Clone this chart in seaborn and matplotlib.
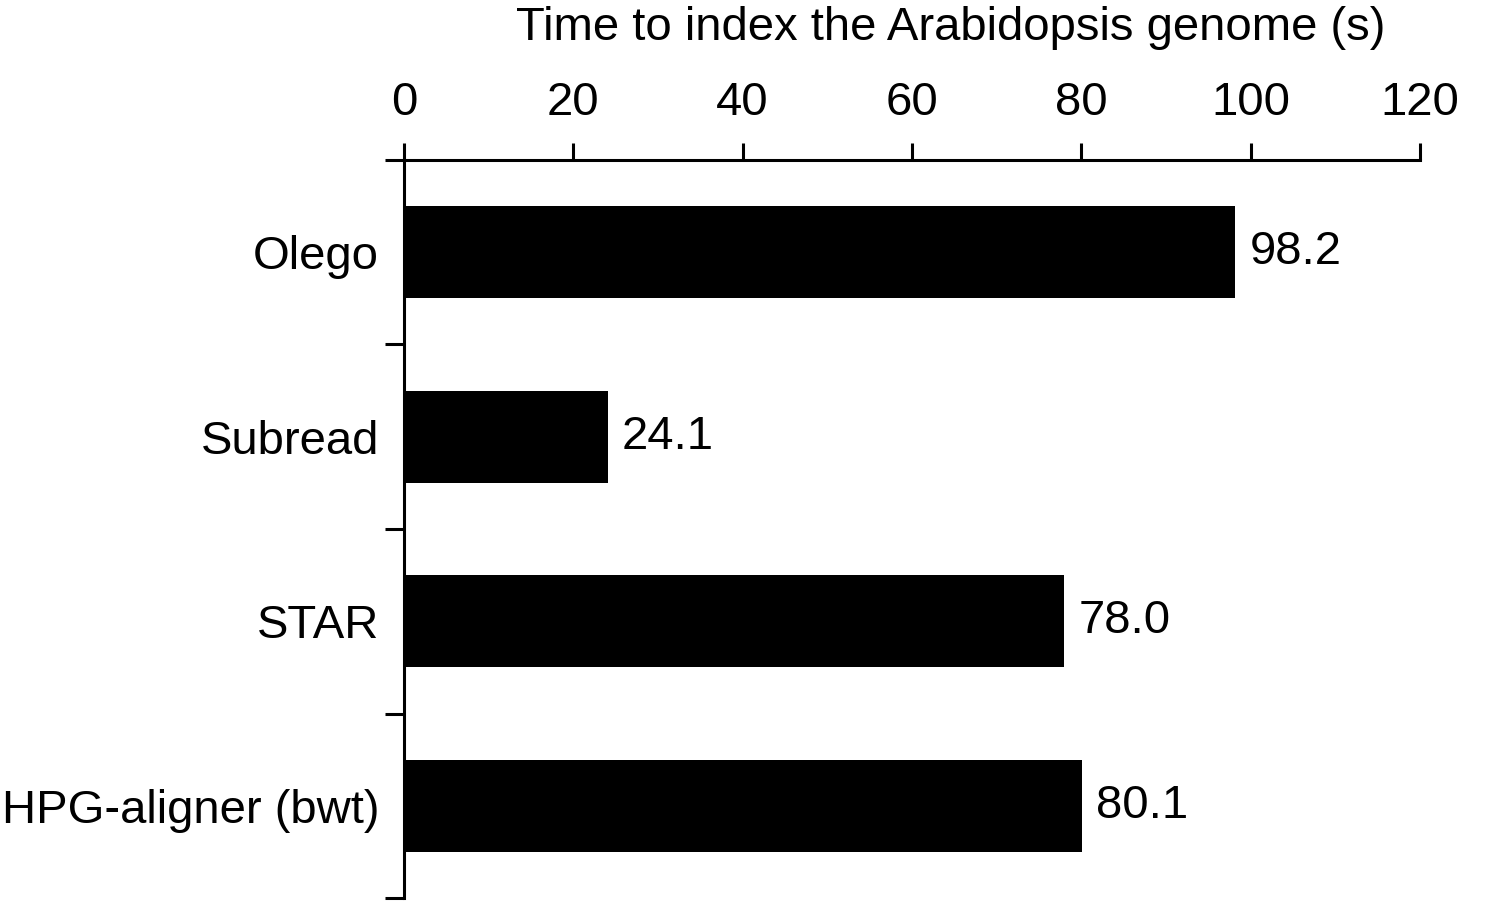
import numpy as np
import pandas as pd
import matplotlib
matplotlib.use("Agg")
import matplotlib.pyplot as plt
import seaborn as sns

# data
aligners = ["Olego", "Subread", "STAR", "HPG-aligner (bwt)"]
index_time = [98.2, 24.1, 78.0, 80.1]
x_ticks = [0, 20, 40, 60, 80, 100, 120]

sns.set_theme(style="ticks")
plt.rcParams["font.family"] = ["Liberation Sans", "DejaVu Sans"]
plt.rcParams.update({"text.color": "black", "axes.labelcolor": "black",
                     "xtick.color": "black", "ytick.color": "black"})

df = pd.DataFrame({"aligner": aligners, "time": index_time})

fig = plt.figure(figsize=(14.87, 9.21), dpi=100)
ax = fig.add_axes([404 / 1487, 1 - 898 / 921, (1420 - 404) / 1487, (898 - 160) / 921])

sns.barplot(data=df, x="time", y="aligner", color="black", width=0.5,
            saturation=1, ax=ax)
for bar in ax.patches:
    bar.set_edgecolor("none")

ax.bar_label(ax.containers[0], labels=[f"{v:.1f}" for v in index_time],
             padding=10, fontsize=34, color="black")

ax.set_xlim(0, 120)
ax.set_ylim(3.5, -0.5)
ax.set_xticks(x_ticks)
ax.xaxis.tick_top()
ax.tick_params(axis="x", which="major", length=12, width=2.2, labelsize=34,
               pad=13, top=True, bottom=False)

# category labels on major ticks (no mark), tick marks at category boundaries
ax.set_yticks(np.arange(len(aligners)))
ax.set_yticks(np.arange(len(aligners) + 1) - 0.5, minor=True)
ax.tick_params(axis="y", which="major", length=0, labelsize=34, pad=18)
ax.tick_params(axis="y", which="minor", length=14, width=2.2)

ax.set_ylabel("")
ax.set_xlabel("Time to index the Arabidopsis genome (s)", fontsize=34)
ax.xaxis.set_label_position("top")
ax.xaxis.set_label_coords(0.538, 1.163)

for side in ["right", "bottom"]:
    ax.spines[side].set_visible(False)
for side in ["top", "left"]:
    ax.spines[side].set_linewidth(2.2)
    ax.spines[side].set_color("black")

fig.savefig("out.png", dpi=100)
